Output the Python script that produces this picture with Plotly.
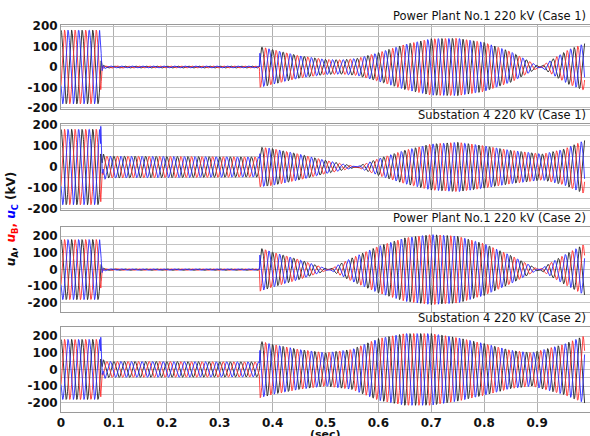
import numpy as np
import plotly.graph_objects as go

# ---------------- data ----------------
panel_titles = ["Power Plant No.1 220 kV (Case 1)",
                "Substation 4 220 kV (Case 1)",
                "Power Plant No.1 220 kV (Case 2)",
                "Substation 4 220 kV (Case 2)"]

# envelope knots (sec, kV) of the 50 Hz three-phase voltage, per panel
env_t_p1 = [0, 0.073, 0.078, 0.375, 0.376, 0.40, 0.45, 0.50, 0.53, 0.56, 0.60, 0.65, 0.70, 0.75, 0.80, 0.85, 0.88, 0.905, 0.93, 0.96, 1.0]
env_v_p1 = [180, 180, 5, 5, 100, 85, 55, 37, 35, 42, 70, 110, 138, 140, 120, 75, 35, 0, -40, -85, -125]

env_t_p2 = [0, 0.073, 0.078, 0.375, 0.376, 0.40, 0.45, 0.50, 0.55, 0.60, 0.65, 0.70, 0.75, 0.79, 0.85, 0.91, 0.95, 1.0]
env_v_p2 = [180, 180, 52, 48, 95, 88, 62, 32, 6, -40, -80, -110, -118, -105, -80, -62, -85, -138]

env_t_p3 = [0, 0.073, 0.078, 0.375, 0.376, 0.40, 0.45, 0.50, 0.55, 0.60, 0.65, 0.70, 0.75, 0.80, 0.85, 0.90, 0.95, 1.0]
env_v_p3 = [180, 180, 5, 5, 130, 105, 60, 8, -70, -140, -190, -210, -200, -155, -85, -5, 85, 170]

env_t_p4 = [0, 0.073, 0.078, 0.375, 0.376, 0.40, 0.45, 0.50, 0.55, 0.60, 0.65, 0.70, 0.75, 0.80, 0.85, 0.89, 0.95, 1.0]
env_v_p4 = [180, 180, 48, 45, 170, 150, 120, 100, 120, 185, 215, 215, 190, 155, 115, 100, 150, 215]

# fault-inception transient peak (kV) per phase A, B, C
trans_p1 = [20, -20, 50]
trans_p2 = [60, -60, 100]
trans_p3 = [20, -20, 50]
trans_p4 = [60, -60, 100]

y_ranges = [[-205, 205], [-205, 205], [-255, 255], [-255, 255]]
x_ticks = [0, 0.1, 0.2, 0.3, 0.4, 0.5, 0.6, 0.7, 0.8, 0.9]
phase_names = ["uA", "uB", "uC"]
phase_colors = ["#222222", "#ff3030", "#2a2aff"]

# ---------------- build figure ----------------
f0 = 50.0
t = np.arange(0, 0.99, 0.0002)
shifts = [0, -2 * np.pi / 3, 2 * np.pi / 3]

panels = [(env_t_p1, env_v_p1, trans_p1), (env_t_p2, env_v_p2, trans_p2),
          (env_t_p3, env_v_p3, trans_p3), (env_t_p4, env_v_p4, trans_p4)]

domains = [[0.783, 1.0], [0.522, 0.744], [0.258, 0.478], [0.0, 0.220]]

fig = go.Figure()
for i, (et, ev, tr) in enumerate(panels):
    env = np.interp(t, et, ev)
    dtf = t - 0.075
    trans_shape = np.where(dtf > 0, np.exp(-np.clip(dtf, 0, None) / 0.003) * np.cos(2 * np.pi * 180 * dtf), 0)
    for k in range(3):
        y = env * np.cos(2 * np.pi * f0 * t + shifts[k]) + tr[k] * trans_shape
        fig.add_trace(go.Scatter(x=t, y=y, mode="lines", name=phase_names[k],
                                 line=dict(color=phase_colors[k], width=0.9),
                                 xaxis="x" if i == 0 else f"x{i+1}",
                                 yaxis="y" if i == 0 else f"y{i+1}",
                                 showlegend=False, hoverinfo="skip"))

tickfont = dict(family="DejaVu Sans", size=12, color="#111", weight="bold")
grid = "#c4c4c4"
layout = dict(width=590, height=436, margin=dict(l=61, r=0, t=25, b=24),
              paper_bgcolor="white", plot_bgcolor="white", showlegend=False)
for i in range(4):
    xs = "xaxis" if i == 0 else f"xaxis{i+1}"
    ys = "yaxis" if i == 0 else f"yaxis{i+1}"
    yv = list(range(-250, 251, 50))
    yt = [str(v) if v % 100 == 0 and abs(v) <= 200 else "" for v in yv]
    layout[xs] = dict(domain=[0, 1], range=[0, 1.0], anchor="y" if i == 0 else f"y{i+1}",
                      tickvals=x_ticks, showticklabels=(i == 3), tickfont=tickfont,
                      ticktext=[("%g" % v) for v in x_ticks],
                      showgrid=True, gridcolor="#b0b0b0", gridwidth=1, zeroline=False,
                      showline=True, linecolor="#9a9a9a", linewidth=1, mirror=True, ticks="")
    layout[ys] = dict(domain=domains[i], range=y_ranges[i], anchor="x" if i == 0 else f"x{i+1}",
                      tickvals=yv, ticktext=yt, tickfont=tickfont,
                      showgrid=True, gridcolor=grid, gridwidth=1, zeroline=False,
                      showline=True, linecolor="#9a9a9a", linewidth=1, mirror=True, ticks="")
fig.update_layout(**layout)

for i in range(4):
    fig.add_annotation(text=panel_titles[i], xref="paper", yref="paper", x=0.997, y=domains[i][1],
                       xanchor="right", yanchor="bottom", yshift=0, showarrow=False,
                       font=dict(family="DejaVu Sans", size=11.5, color="#111"))

ytitle = ("<span style='color:#111'><i>u</i><sub>A</sub>, </span>"
          "<span style='color:#ff0000'><i>u</i><sub>B</sub>, </span>"
          "<span style='color:#0000ff'><i>u</i><sub>C</sub></span>"
          "<span style='color:#111'> (kV)</span>")
fig.add_annotation(text=ytitle, xref="paper", yref="paper", x=-0.093, y=0.5,
                   xanchor="center", yanchor="middle", textangle=-90, showarrow=False,
                   font=dict(family="DejaVu Sans", size=12, weight="bold"))
fig.add_annotation(text="(sec)", xref="paper", yref="paper", x=0.5, y=-0.057,
                   xanchor="center", yanchor="middle", showarrow=False,
                   font=dict(family="DejaVu Sans", size=11, color="#111", weight="bold"))

fig.write_html("out.html", config={"displayModeBar": False},
               post_script="document.body.style.margin='0';document.body.style.overflow='hidden';")
